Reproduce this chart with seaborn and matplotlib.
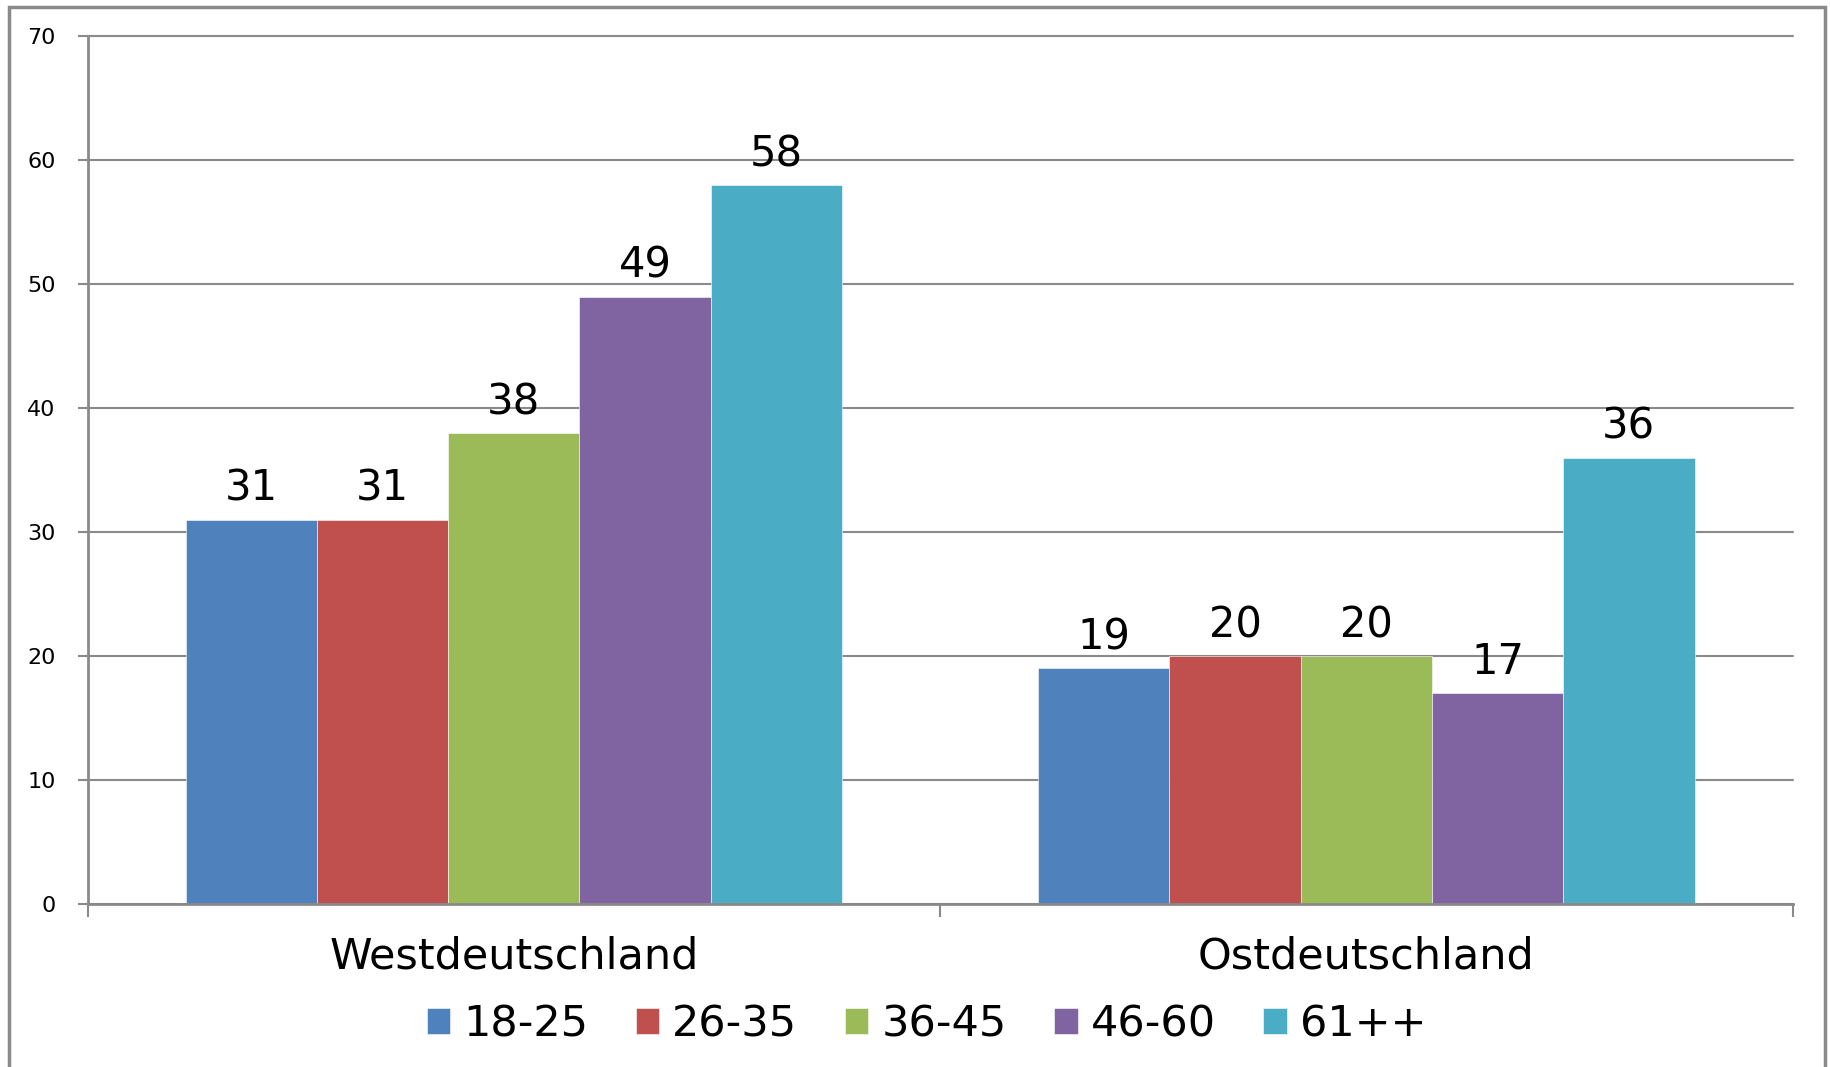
import matplotlib
matplotlib.use('Agg')
import matplotlib.pyplot as plt
from matplotlib.patches import Rectangle
import pandas as pd
import seaborn as sns

regions = ['Westdeutschland', 'Ostdeutschland']
age_groups = ['18-25', '26-35', '36-45', '46-60', '61++']
west_values = [31, 31, 38, 49, 58]
east_values = [19, 20, 20, 17, 36]
colors = ['#4F81BD', '#C0504D', '#9BBB59', '#8064A2', '#4BACC6']
y_ticks = [0, 10, 20, 30, 40, 50, 60, 70]

GRAY = '#8a8a8a'


def build_frame():
    rows = []
    for region, values in zip(regions, [west_values, east_values]):
        for age, value in zip(age_groups, values):
            rows.append({'region': region, 'age': age, 'value': value})
    return pd.DataFrame(rows)


def main():
    sns.set_style('white')
    plt.rcParams['font.family'] = ['DejaVu Sans']
    plt.rcParams['text.color'] = 'black'
    plt.rcParams['xtick.color'] = 'black'
    plt.rcParams['ytick.color'] = 'black'

    df = build_frame()

    fig = plt.figure(figsize=(18.31, 10.67), dpi=100)
    ax = fig.add_axes([0.0478, 0.153, 0.9312, 0.813])

    sns.barplot(data=df, x='region', y='value', hue='age', order=regions,
                hue_order=age_groups, palette=colors, width=0.77,
                saturation=1, edgecolor='white', linewidth=0.4, ax=ax)

    for container in ax.containers:
        ax.bar_label(container, fmt='%d', padding=7, fontsize=30,
                     color='black')

    ax.set_ylim(0, 70)
    ax.set_xlim(-0.5, 1.5)
    ax.set_yticks(y_ticks)
    ax.yaxis.grid(True, color=GRAY, linewidth=1.5)
    for line in ax.get_ygridlines():
        line.set_clip_on(False)
    ax.set_axisbelow(True)

    for side in ['top', 'right']:
        ax.spines[side].set_visible(False)
    for side in ['left', 'bottom']:
        ax.spines[side].set_color(GRAY)
        ax.spines[side].set_linewidth(2)

    ax.tick_params(axis='y', length=7, width=1.5, color=GRAY, pad=16,
                   labelsize=16, left=True, labelcolor='black')
    ax.tick_params(axis='x', which='major', length=0, pad=23, labelsize=31,
                   labelcolor='black')
    ax.set_xticks([-0.5, 0.5, 1.5], minor=True)
    ax.tick_params(axis='x', which='minor', length=9, width=1.5,
                   color=GRAY, bottom=True)
    ax.set_xlabel('')
    ax.set_ylabel('')

    handles, labels = ax.get_legend_handles_labels()
    ax.legend(handles, labels, ncol=5, frameon=False, fontsize=31,
              loc='center', bbox_to_anchor=(0.506, 0.040),
              bbox_transform=fig.transFigure, handlelength=0.55,
              handleheight=0.55, handletextpad=0.3, columnspacing=1.1,
              labelcolor='black')

    # Rahmen um das ganze Diagramm
    fig.patches.append(Rectangle((9 / 1831, -0.05), 1816 / 1831, 1.05 - 7 / 1067,
                                 transform=fig.transFigure, fill=False,
                                 edgecolor=GRAY, linewidth=2.5))

    fig.savefig('out.png', dpi=100)


if __name__ == '__main__':
    main()
